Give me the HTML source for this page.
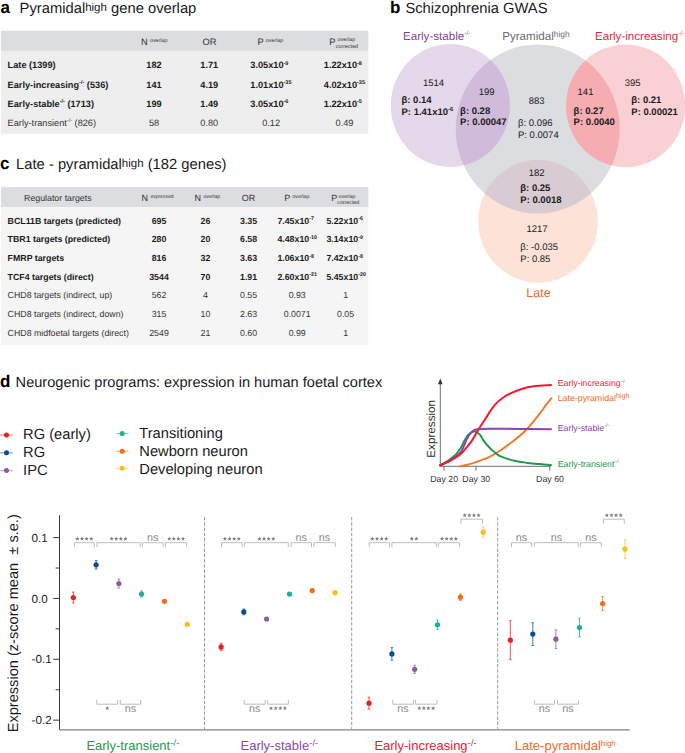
<!DOCTYPE html>
<html><head><meta charset="utf-8"><title>Figure</title>
<style>
html,body{margin:0;padding:0;background:#fff;}
body{width:685px;height:753px;overflow:hidden;}
svg{display:block;font-family:"Liberation Sans", sans-serif;text-rendering:geometricPrecision;}
</style></head>
<body>
<svg width="685" height="753" viewBox="0 0 685 753">
<rect width="685" height="753" fill="#fff"/>
<text x="0.5" y="13.1" font-size="17" font-weight="bold" fill="#000">a</text>
<text x="19.6" y="13.1" font-size="14.75" fill="#1a1a1a">Pyramidal<tspan font-size="11.5" dy="-2.6">high</tspan><tspan dy="2.6"> gene overlap</tspan></text>
<rect x="0.9" y="30.7" width="367.4" height="20.2" fill="#dcdde0"/>
<rect x="0.9" y="50.9" width="367.4" height="82.9" fill="#eeeeee"/>
<text x="141" y="44.6" font-size="9.3" fill="#333">N<tspan font-size="5.35" dx="2.2" dy="-3.05">overlap</tspan></text>
<text x="209.5" y="44.5" font-size="9.3" fill="#333" font-weight="normal" text-anchor="middle" >OR</text>
<text x="257.4" y="44.6" font-size="9.3" fill="#333">P<tspan font-size="5.35" dx="2.2" dy="-3.05">overlap</tspan></text>
<text x="329.3" y="44.6" font-size="9.3" fill="#333">P<tspan font-size="5.35" dx="2.1" dy="-3.65">overlap</tspan></text>
<text x="335.8" y="47.6" font-size="5.35" fill="#333">corrected</text>
<text x="7.6" y="68.2" font-size="9.2" font-weight="bold" fill="#1a1a1a">Late (1399)</text>
<text x="154" y="68.2" font-size="9.2" fill="#1a1a1a" font-weight="bold" text-anchor="middle" >182</text>
<text x="209.3" y="68.2" font-size="9.2" fill="#1a1a1a" font-weight="bold" text-anchor="middle" >1.71</text>
<text x="250.3" y="68.2" font-size="9.2" font-weight="bold" fill="#1a1a1a">3.05x10<tspan font-size="5.5" dy="-3.5">-9</tspan></text>
<text x="323.8" y="68.2" font-size="9.2" font-weight="bold" fill="#1a1a1a">1.22x10<tspan font-size="5.5" dy="-3.5">-8</tspan></text>
<text x="7.6" y="87.5" font-size="9.2" font-weight="bold" fill="#1a1a1a">Early-increasing<tspan font-size="5.5" dy="-3.5">-/-</tspan><tspan dy="3.5"> (536)</tspan></text>
<text x="154" y="87.5" font-size="9.2" fill="#1a1a1a" font-weight="bold" text-anchor="middle" >141</text>
<text x="209.3" y="87.5" font-size="9.2" fill="#1a1a1a" font-weight="bold" text-anchor="middle" >4.19</text>
<text x="250.3" y="87.5" font-size="9.2" font-weight="bold" fill="#1a1a1a">1.01x10<tspan font-size="5.5" dy="-3.5">-35</tspan></text>
<text x="323.8" y="87.5" font-size="9.2" font-weight="bold" fill="#1a1a1a">4.02x10<tspan font-size="5.5" dy="-3.5">-35</tspan></text>
<text x="7.6" y="106.9" font-size="9.2" font-weight="bold" fill="#1a1a1a">Early-stable<tspan font-size="5.5" dy="-3.5">-/-</tspan><tspan dy="3.5"> (1713)</tspan></text>
<text x="154" y="106.9" font-size="9.2" fill="#1a1a1a" font-weight="bold" text-anchor="middle" >199</text>
<text x="209.3" y="106.9" font-size="9.2" fill="#1a1a1a" font-weight="bold" text-anchor="middle" >1.49</text>
<text x="250.3" y="106.9" font-size="9.2" font-weight="bold" fill="#1a1a1a">3.05x10<tspan font-size="5.5" dy="-3.5">-6</tspan></text>
<text x="323.8" y="106.9" font-size="9.2" font-weight="bold" fill="#1a1a1a">1.22x10<tspan font-size="5.5" dy="-3.5">-5</tspan></text>
<text x="7.6" y="125.9" font-size="9.2" font-weight="normal" fill="#333">Early-transient<tspan font-size="5.5" dy="-3.5">-/-</tspan><tspan dy="3.5"> (826)</tspan></text>
<text x="154" y="125.9" font-size="9.2" fill="#333" font-weight="normal" text-anchor="middle" >58</text>
<text x="209.3" y="125.9" font-size="9.2" fill="#333" font-weight="normal" text-anchor="middle" >0.80</text>
<text x="271.1" y="125.9" font-size="9.2" fill="#333" font-weight="normal" text-anchor="middle" >0.12</text>
<text x="344.5" y="125.9" font-size="9.2" fill="#333" font-weight="normal" text-anchor="middle" >0.49</text>
<text x="0" y="169.4" font-size="17" font-weight="bold" fill="#000">c</text>
<text x="16.1" y="169.4" font-size="14.75" fill="#1a1a1a">Late - pyramidal<tspan font-size="11.5" dy="-2.6">high</tspan><tspan dy="2.6"> (182 genes)</tspan></text>
<rect x="0.9" y="187.0" width="367.4" height="20.1" fill="#dcdde0"/>
<rect x="0.9" y="207.1" width="367.4" height="138.1" fill="#f5f5f5"/>
<text x="57.8" y="200.5" font-size="8.8" fill="#333" font-weight="normal" text-anchor="middle" >Regulator targets</text>
<text x="141.5" y="200.6" font-size="9" fill="#333">N<tspan font-size="5.0" dx="2.4" dy="-2.5">expressed</tspan></text>
<text x="194.6" y="200.6" font-size="9" fill="#333">N<tspan font-size="5.1" dx="2.3" dy="-2.5">overlap</tspan></text>
<text x="248.6" y="200.6" font-size="9" fill="#333" font-weight="normal" text-anchor="middle" >OR</text>
<text x="284.2" y="200.6" font-size="9" fill="#333">P<tspan font-size="5.1" dx="2.3" dy="-2.5">overlap</tspan></text>
<text x="331.2" y="200.6" font-size="9" fill="#333">P<tspan font-size="5.1" dx="1.4" dy="-2.6">overlap</tspan></text>
<text x="337.3" y="203.8" font-size="5.25" fill="#333">corrected</text>
<text x="7.6" y="223.5" font-size="8.8" fill="#1a1a1a" font-weight="bold" text-anchor="start" >BCL11B targets (predicted)</text>
<text x="159" y="223.5" font-size="8.8" fill="#1a1a1a" font-weight="bold" text-anchor="middle" >695</text>
<text x="205.4" y="223.5" font-size="8.8" fill="#1a1a1a" font-weight="bold" text-anchor="middle" >26</text>
<text x="248.6" y="223.5" font-size="8.8" fill="#1a1a1a" font-weight="bold" text-anchor="middle" >3.35</text>
<text x="277.4" y="223.5" font-size="8.8" font-weight="bold" fill="#1a1a1a">7.45x10<tspan font-size="5.3" dy="-3.4">-7</tspan></text>
<text x="326.4" y="223.5" font-size="8.8" font-weight="bold" fill="#1a1a1a">5.22x10<tspan font-size="5.3" dy="-3.4">-6</tspan></text>
<text x="7.6" y="242.2" font-size="8.8" fill="#1a1a1a" font-weight="bold" text-anchor="start" >TBR1 targets (predicted)</text>
<text x="159" y="242.2" font-size="8.8" fill="#1a1a1a" font-weight="bold" text-anchor="middle" >280</text>
<text x="205.4" y="242.2" font-size="8.8" fill="#1a1a1a" font-weight="bold" text-anchor="middle" >20</text>
<text x="248.6" y="242.2" font-size="8.8" fill="#1a1a1a" font-weight="bold" text-anchor="middle" >6.58</text>
<text x="277.4" y="242.2" font-size="8.8" font-weight="bold" fill="#1a1a1a">4.48x10<tspan font-size="5.3" dy="-3.4">-10</tspan></text>
<text x="326.4" y="242.2" font-size="8.8" font-weight="bold" fill="#1a1a1a">3.14x10<tspan font-size="5.3" dy="-3.4">-9</tspan></text>
<text x="7.6" y="260.9" font-size="8.8" fill="#1a1a1a" font-weight="bold" text-anchor="start" >FMRP targets</text>
<text x="159" y="260.9" font-size="8.8" fill="#1a1a1a" font-weight="bold" text-anchor="middle" >816</text>
<text x="205.4" y="260.9" font-size="8.8" fill="#1a1a1a" font-weight="bold" text-anchor="middle" >32</text>
<text x="248.6" y="260.9" font-size="8.8" fill="#1a1a1a" font-weight="bold" text-anchor="middle" >3.63</text>
<text x="277.4" y="260.9" font-size="8.8" font-weight="bold" fill="#1a1a1a">1.06x10<tspan font-size="5.3" dy="-3.4">-8</tspan></text>
<text x="326.4" y="260.9" font-size="8.8" font-weight="bold" fill="#1a1a1a">7.42x10<tspan font-size="5.3" dy="-3.4">-8</tspan></text>
<text x="7.6" y="279.5" font-size="8.8" fill="#1a1a1a" font-weight="bold" text-anchor="start" >TCF4 targets (direct)</text>
<text x="159" y="279.5" font-size="8.8" fill="#1a1a1a" font-weight="bold" text-anchor="middle" >3544</text>
<text x="205.4" y="279.5" font-size="8.8" fill="#1a1a1a" font-weight="bold" text-anchor="middle" >70</text>
<text x="248.6" y="279.5" font-size="8.8" fill="#1a1a1a" font-weight="bold" text-anchor="middle" >1.91</text>
<text x="277.4" y="279.5" font-size="8.8" font-weight="bold" fill="#1a1a1a">2.60x10<tspan font-size="5.3" dy="-3.4">-21</tspan></text>
<text x="326.4" y="279.5" font-size="8.8" font-weight="bold" fill="#1a1a1a">5.45x10<tspan font-size="5.3" dy="-3.4">-20</tspan></text>
<text x="7.6" y="298.3" font-size="8.8" fill="#333" font-weight="normal" text-anchor="start" >CHD8 targets (indirect, up)</text>
<text x="159" y="298.3" font-size="8.8" fill="#333" font-weight="normal" text-anchor="middle" >562</text>
<text x="205.4" y="298.3" font-size="8.8" fill="#333" font-weight="normal" text-anchor="middle" >4</text>
<text x="248.6" y="298.3" font-size="8.8" fill="#333" font-weight="normal" text-anchor="middle" >0.55</text>
<text x="297.2" y="298.3" font-size="8.8" fill="#333" font-weight="normal" text-anchor="middle" >0.93</text>
<text x="345.6" y="298.3" font-size="8.8" fill="#333" font-weight="normal" text-anchor="middle" >1</text>
<text x="7.6" y="317.0" font-size="8.8" fill="#333" font-weight="normal" text-anchor="start" >CHD8 targets (indirect, down)</text>
<text x="159" y="317.0" font-size="8.8" fill="#333" font-weight="normal" text-anchor="middle" >315</text>
<text x="205.4" y="317.0" font-size="8.8" fill="#333" font-weight="normal" text-anchor="middle" >10</text>
<text x="248.6" y="317.0" font-size="8.8" fill="#333" font-weight="normal" text-anchor="middle" >2.63</text>
<text x="297.2" y="317.0" font-size="8.8" fill="#333" font-weight="normal" text-anchor="middle" >0.0071</text>
<text x="345.6" y="317.0" font-size="8.8" fill="#333" font-weight="normal" text-anchor="middle" >0.05</text>
<text x="7.6" y="335.6" font-size="8.8" fill="#333" font-weight="normal" text-anchor="start" >CHD8 midfoetal targets (direct)</text>
<text x="159" y="335.6" font-size="8.8" fill="#333" font-weight="normal" text-anchor="middle" >2549</text>
<text x="205.4" y="335.6" font-size="8.8" fill="#333" font-weight="normal" text-anchor="middle" >21</text>
<text x="248.6" y="335.6" font-size="8.8" fill="#333" font-weight="normal" text-anchor="middle" >0.60</text>
<text x="297.2" y="335.6" font-size="8.8" fill="#333" font-weight="normal" text-anchor="middle" >0.99</text>
<text x="345.6" y="335.6" font-size="8.8" fill="#333" font-weight="normal" text-anchor="middle" >1</text>
<text x="390" y="12.8" font-size="17" font-weight="bold" fill="#000">b</text>
<text x="405.4" y="12.8" font-size="14.75" fill="#1a1a1a">Schizophrenia GWAS</text>
<defs><clipPath id="cg"><ellipse cx="537.7" cy="129" rx="82" ry="84.5"/></clipPath></defs>
<ellipse cx="537.7" cy="129" rx="82" ry="84.5" fill="#dcdde0"/>
<ellipse cx="450.4" cy="105.4" rx="59.6" ry="61.5" fill="#e5d8eb"/>
<ellipse cx="625.6" cy="105.8" rx="59.6" ry="61.4" fill="#f9d0d4"/>
<ellipse cx="538" cy="221.2" rx="59.8" ry="61.4" fill="#fde2d7"/>
<g clip-path="url(#cg)"><ellipse cx="450.4" cy="105.4" rx="59.6" ry="61.5" fill="#d0bbda"/><ellipse cx="625.6" cy="105.8" rx="59.6" ry="61.4" fill="#f5adb2"/><ellipse cx="538" cy="221.2" rx="59.8" ry="61.4" fill="#d9cbd2"/></g>
<text x="403" y="39.7" font-size="11.6" fill="#8a3f9e">Early-stable<tspan font-size="6.2" dx="0.3" dy="-5.2">-/-</tspan></text>
<text x="502.2" y="39.7" font-size="11.6" fill="#6d6e71">Pyramidal<tspan font-size="8.4" dy="-3.2">high</tspan></text>
<text x="595" y="39.7" font-size="11.6" fill="#e8283c">Early-increasing<tspan font-size="6.2" dx="0.3" dy="-5.2">-/-</tspan></text>
<text x="526.3" y="296.5" font-size="12.5" fill="#ec6a2c">Late</text>
<text x="433.6" y="86" font-size="9.5" fill="#1a1a1a" font-weight="normal" text-anchor="middle" >1514</text>
<text x="401.5" y="102.8" font-size="9.5" fill="#1a1a1a" font-weight="bold" text-anchor="start" >β: 0.14</text>
<text x="401.5" y="114.8" font-size="9.5" font-weight="bold" fill="#1a1a1a">P: 1.41x10<tspan font-size="5.8" dy="-3.6">-6</tspan></text>
<text x="486.6" y="94.5" font-size="9.5" fill="#1a1a1a" font-weight="normal" text-anchor="middle" >199</text>
<text x="460.1" y="113.5" font-size="9.5" fill="#1a1a1a" font-weight="bold" text-anchor="start" >β: 0.28</text>
<text x="460.1" y="125.2" font-size="9.5" fill="#1a1a1a" font-weight="bold" text-anchor="start" >P: 0.00047</text>
<text x="536.7" y="103.5" font-size="9.5" fill="#1a1a1a" font-weight="normal" text-anchor="middle" >883</text>
<text x="518" y="125.5" font-size="9.5" fill="#1a1a1a" font-weight="normal" text-anchor="start" >β: 0.096</text>
<text x="518" y="137.5" font-size="9.5" fill="#1a1a1a" font-weight="normal" text-anchor="start" >P: 0.0074</text>
<text x="585.5" y="95.3" font-size="9.5" fill="#1a1a1a" font-weight="normal" text-anchor="middle" >141</text>
<text x="573.6" y="113.5" font-size="9.5" fill="#1a1a1a" font-weight="bold" text-anchor="start" >β: 0.27</text>
<text x="573.6" y="125.2" font-size="9.5" fill="#1a1a1a" font-weight="bold" text-anchor="start" >P: 0.0040</text>
<text x="632.6" y="86" font-size="9.5" fill="#1a1a1a" font-weight="normal" text-anchor="middle" >395</text>
<text x="631.3" y="102.8" font-size="9.5" fill="#1a1a1a" font-weight="bold" text-anchor="start" >β: 0.21</text>
<text x="631.3" y="114.6" font-size="9.5" fill="#1a1a1a" font-weight="bold" text-anchor="start" >P: 0.00021</text>
<text x="536.7" y="175.7" font-size="9.5" fill="#1a1a1a" font-weight="normal" text-anchor="middle" >182</text>
<text x="520.3" y="190.8" font-size="9.5" fill="#1a1a1a" font-weight="bold" text-anchor="start" >β: 0.25</text>
<text x="520.3" y="202.8" font-size="9.5" fill="#1a1a1a" font-weight="bold" text-anchor="start" >P: 0.0018</text>
<text x="537" y="231.8" font-size="9.5" fill="#1a1a1a" font-weight="normal" text-anchor="middle" >1217</text>
<text x="520.3" y="250" font-size="9.5" fill="#1a1a1a" font-weight="normal" text-anchor="start" >β: -0.035</text>
<text x="520.3" y="262.1" font-size="9.5" fill="#1a1a1a" font-weight="normal" text-anchor="start" >P: 0.85</text>
<text x="0" y="386.8" font-size="17" font-weight="bold" fill="#000">d</text>
<text x="15.6" y="387" font-size="14.6" fill="#1a1a1a">Neurogenic programs: expression in human foetal cortex</text>
<line x1="0" y1="435.0" x2="12.8" y2="435.0" stroke="#ee1c25" stroke-opacity="0.5" stroke-width="1.2"/>
<circle cx="6.5" cy="435.0" r="2.5" fill="#ee1c25"/>
<text x="23.1" y="438.90000000000003" font-size="14.7" fill="#1a1a1a" font-weight="normal" text-anchor="start" >RG (early)</text>
<line x1="0" y1="452.8" x2="12.8" y2="452.8" stroke="#0c4a96" stroke-opacity="0.5" stroke-width="1.2"/>
<circle cx="6.5" cy="452.8" r="2.5" fill="#0c4a96"/>
<text x="23.1" y="456.90000000000003" font-size="14.7" fill="#1a1a1a" font-weight="normal" text-anchor="start" >RG</text>
<line x1="0" y1="470.6" x2="12.8" y2="470.6" stroke="#8e5aa6" stroke-opacity="0.5" stroke-width="1.2"/>
<circle cx="6.5" cy="470.6" r="2.5" fill="#8e5aa6"/>
<text x="23.1" y="474.90000000000003" font-size="14.7" fill="#1a1a1a" font-weight="normal" text-anchor="start" >IPC</text>
<line x1="115.8" y1="433.6" x2="128.6" y2="433.6" stroke="#1aaf9c" stroke-opacity="0.5" stroke-width="1.2"/>
<circle cx="122.2" cy="433.6" r="2.5" fill="#1aaf9c"/>
<text x="139.3" y="438.2" font-size="14.7" fill="#1a1a1a" font-weight="normal" text-anchor="start" >Transitioning</text>
<line x1="115.8" y1="451.3" x2="128.6" y2="451.3" stroke="#f36b12" stroke-opacity="0.5" stroke-width="1.2"/>
<circle cx="122.2" cy="451.3" r="2.5" fill="#f36b12"/>
<text x="139.3" y="456.2" font-size="14.7" fill="#1a1a1a" font-weight="normal" text-anchor="start" >Newborn neuron</text>
<line x1="115.8" y1="468.3" x2="128.6" y2="468.3" stroke="#fbbd18" stroke-opacity="0.5" stroke-width="1.2"/>
<circle cx="122.2" cy="468.3" r="2.5" fill="#fbbd18"/>
<text x="139.3" y="473.5" font-size="14.7" fill="#1a1a1a" font-weight="normal" text-anchor="start" >Developing neuron</text>
<line x1="440.3" y1="382" x2="440.3" y2="466.1" stroke="#6d6e71" stroke-width="1"/>
<path d="M440.3,378.6 L442.6,384.2 L438,384.2 Z" fill="#333"/>
<line x1="440.3" y1="466.3" x2="551" y2="466.3" stroke="#6d6e71" stroke-width="1"/>
<line x1="444.0" y1="466.1" x2="444.0" y2="470.6" stroke="#6d6e71" stroke-width="1"/>
<line x1="475.9" y1="466.1" x2="475.9" y2="470.6" stroke="#6d6e71" stroke-width="1"/>
<line x1="549.8" y1="466.1" x2="549.8" y2="470.6" stroke="#6d6e71" stroke-width="1"/>
<text x="430.2" y="482" font-size="8.8" fill="#333" font-weight="normal" text-anchor="start" >Day 20</text>
<text x="462.3" y="482" font-size="8.8" fill="#333" font-weight="normal" text-anchor="start" >Day 30</text>
<text x="536.1" y="482" font-size="8.8" fill="#333" font-weight="normal" text-anchor="start" >Day 60</text>
<text transform="translate(435.4,457.7) rotate(-90)" x="0" y="0" font-size="11.7" fill="#333">Expression</text>
<path d="M459.9,466.4 C461.12,466.13 464.77,465.43 467.20,464.80 C469.63,464.17 472.07,463.40 474.50,462.60 C476.93,461.80 479.55,460.83 481.80,460.00 C484.05,459.17 485.43,458.85 488.00,457.60 C490.57,456.35 493.63,454.77 497.20,452.50 C500.77,450.23 505.33,447.05 509.40,444.00 C513.47,440.95 518.53,436.85 521.60,434.20 C524.67,431.55 525.75,430.33 527.80,428.10 C529.85,425.87 531.87,423.25 533.90,420.80 C535.93,418.35 537.97,416.05 540.00,413.40 C542.03,410.75 544.20,407.43 546.10,404.90 C548.00,402.37 550.52,399.32 551.40,398.20" fill="none" stroke="#f07a27" stroke-width="2" stroke-linecap="round"/>
<path d="M440.2,465.4 C441.67,464.50 446.33,461.87 449.00,460.00 C451.67,458.13 454.13,456.38 456.20,454.20 C458.27,452.02 460.05,449.08 461.40,446.90 C462.75,444.72 463.22,443.05 464.30,441.10 C465.38,439.15 466.68,436.67 467.90,435.20 C469.12,433.73 470.50,432.90 471.60,432.30 C472.70,431.70 473.53,431.53 474.50,431.60 C475.47,431.67 476.43,432.10 477.40,432.70 C478.37,433.30 479.20,433.80 480.30,435.20 C481.40,436.60 482.72,439.30 484.00,441.10 C485.28,442.90 486.82,444.65 488.00,446.00 C489.18,447.35 489.57,447.82 491.10,449.20 C492.63,450.58 495.17,452.93 497.20,454.30 C499.23,455.67 500.25,456.27 503.30,457.40 C506.35,458.53 511.42,460.18 515.50,461.10 C519.58,462.02 523.72,462.40 527.80,462.90 C531.88,463.40 536.13,463.75 540.00,464.10 C543.87,464.45 549.17,464.85 551.00,465.00" fill="none" stroke="#1d9a4e" stroke-width="2" stroke-linecap="round"/>
<path d="M440.2,465.4 C441.67,464.75 446.33,463.00 449.00,461.50 C451.67,460.00 454.28,457.87 456.20,456.40 C458.12,454.93 459.27,454.28 460.50,452.70 C461.73,451.12 462.58,449.08 463.60,446.90 C464.62,444.72 465.53,441.78 466.60,439.60 C467.67,437.42 468.87,435.32 470.00,433.80 C471.13,432.28 472.28,431.23 473.40,430.50 C474.52,429.77 474.27,429.68 476.70,429.40 C479.13,429.12 480.78,428.88 488.00,428.80 C495.22,428.72 509.50,428.82 520.00,428.90 C530.50,428.98 545.83,429.23 551.00,429.30" fill="none" stroke="#8e44ad" stroke-width="2" stroke-linecap="round"/>
<path d="M440.2,465.4 C441.67,464.68 446.33,462.48 449.00,461.10 C451.67,459.72 454.02,458.50 456.20,457.10 C458.38,455.70 460.27,454.40 462.10,452.70 C463.93,451.00 465.62,448.83 467.20,446.90 C468.78,444.97 470.13,443.28 471.60,441.10 C473.07,438.92 474.55,436.23 476.00,433.80 C477.45,431.37 478.80,428.88 480.30,426.50 C481.80,424.12 483.20,422.28 485.00,419.50 C486.80,416.72 489.07,412.65 491.10,409.80 C493.13,406.95 495.17,404.45 497.20,402.40 C499.23,400.35 501.27,398.92 503.30,397.50 C505.33,396.08 506.35,395.32 509.40,393.90 C512.45,392.48 517.52,390.27 521.60,389.00 C525.68,387.73 529.00,386.95 533.90,386.30 C538.80,385.65 548.15,385.30 551.00,385.10" fill="none" stroke="#ec1c2e" stroke-width="2" stroke-linecap="round"/>
<text x="557.7" y="386.4" font-size="8.8" fill="#e8283c">Early-increasing<tspan font-size="5.2" dx="0.4" dy="-3.6">-/-</tspan></text>
<text x="557.7" y="401.3" font-size="8.8" fill="#ec6a2c">Late-pyramidal<tspan font-size="7.2" dy="-3.4">high</tspan></text>
<text x="557.7" y="431" font-size="8.8" fill="#8e44ad">Early-stable<tspan font-size="5.2" dx="0.4" dy="-3.6">-/-</tspan></text>
<text x="557.7" y="466.5" font-size="8.8" fill="#1d9a4e">Early-transient<tspan font-size="5.2" dx="0.4" dy="-3.6">-/-</tspan></text>
<line x1="59.5" y1="515.2" x2="59.5" y2="729.8" stroke="#3a3a3a" stroke-width="1"/>
<line x1="59.5" y1="729.8" x2="629.8" y2="729.8" stroke="#808080" stroke-width="1.2"/>
<line x1="53.2" y1="537.60" x2="59.5" y2="537.60" stroke="#3a3a3a" stroke-width="1"/>
<text x="31.5" y="541.7" font-size="11.7" fill="#1a1a1a" font-weight="normal" text-anchor="start" >0.1</text>
<line x1="53.2" y1="598.45" x2="59.5" y2="598.45" stroke="#3a3a3a" stroke-width="1"/>
<text x="31.5" y="602.5500000000001" font-size="11.7" fill="#1a1a1a" font-weight="normal" text-anchor="start" >0.0</text>
<line x1="53.2" y1="659.30" x2="59.5" y2="659.30" stroke="#3a3a3a" stroke-width="1"/>
<text x="31.5" y="663.4000000000001" font-size="11.7" fill="#1a1a1a" font-weight="normal" text-anchor="start" >-0.1</text>
<line x1="53.2" y1="720.15" x2="59.5" y2="720.15" stroke="#3a3a3a" stroke-width="1"/>
<text x="31.5" y="724.2500000000001" font-size="11.7" fill="#1a1a1a" font-weight="normal" text-anchor="start" >-0.2</text>
<line x1="55.6" y1="568.03" x2="59.5" y2="568.03" stroke="#3a3a3a" stroke-width="1"/>
<line x1="55.6" y1="628.88" x2="59.5" y2="628.88" stroke="#3a3a3a" stroke-width="1"/>
<line x1="55.6" y1="689.73" x2="59.5" y2="689.73" stroke="#3a3a3a" stroke-width="1"/>
<text transform="translate(18.4,732.3) rotate(-90)" x="0" y="0" font-size="14.6" fill="#1a1a1a">Expression (z-score mean&#160; ± s.e.)</text>
<line x1="204.5" y1="517" x2="204.5" y2="729" stroke="#9a9a9a" stroke-width="1" stroke-dasharray="3.5 1.75"/>
<line x1="351.7" y1="517" x2="351.7" y2="729" stroke="#9a9a9a" stroke-width="1" stroke-dasharray="3.5 1.75"/>
<line x1="497.7" y1="517" x2="497.7" y2="729" stroke="#9a9a9a" stroke-width="1" stroke-dasharray="3.5 1.75"/>
<line x1="73.3" y1="592.0" x2="73.3" y2="603.0" stroke="#ee1c25" stroke-opacity="0.75" stroke-width="1"/>
<line x1="71.89999999999999" y1="592.0" x2="74.7" y2="592.0" stroke="#ee1c25" stroke-opacity="0.75" stroke-width="0.9"/>
<line x1="71.89999999999999" y1="603.0" x2="74.7" y2="603.0" stroke="#ee1c25" stroke-opacity="0.75" stroke-width="0.9"/>
<circle cx="73.3" cy="597.5" r="2.6" fill="#ee1c25"/>
<line x1="96.1" y1="560.5" x2="96.1" y2="569.0999999999999" stroke="#0c4a96" stroke-opacity="0.75" stroke-width="1"/>
<line x1="94.69999999999999" y1="560.5" x2="97.5" y2="560.5" stroke="#0c4a96" stroke-opacity="0.75" stroke-width="0.9"/>
<line x1="94.69999999999999" y1="569.0999999999999" x2="97.5" y2="569.0999999999999" stroke="#0c4a96" stroke-opacity="0.75" stroke-width="0.9"/>
<circle cx="96.1" cy="564.8" r="2.6" fill="#0c4a96"/>
<line x1="118.9" y1="579.0" x2="118.9" y2="588.0" stroke="#8e5aa6" stroke-opacity="0.75" stroke-width="1"/>
<line x1="117.5" y1="579.0" x2="120.30000000000001" y2="579.0" stroke="#8e5aa6" stroke-opacity="0.75" stroke-width="0.9"/>
<line x1="117.5" y1="588.0" x2="120.30000000000001" y2="588.0" stroke="#8e5aa6" stroke-opacity="0.75" stroke-width="0.9"/>
<circle cx="118.9" cy="583.5" r="2.6" fill="#8e5aa6"/>
<line x1="141.5" y1="591.0" x2="141.5" y2="597.0" stroke="#1aaf9c" stroke-opacity="0.75" stroke-width="1"/>
<line x1="140.1" y1="591.0" x2="142.9" y2="591.0" stroke="#1aaf9c" stroke-opacity="0.75" stroke-width="0.9"/>
<line x1="140.1" y1="597.0" x2="142.9" y2="597.0" stroke="#1aaf9c" stroke-opacity="0.75" stroke-width="0.9"/>
<circle cx="141.5" cy="594.0" r="2.6" fill="#1aaf9c"/>
<circle cx="164.5" cy="601.3" r="2.6" fill="#f36b12"/>
<circle cx="187.3" cy="624.3" r="2.6" fill="#fbbd18"/>
<line x1="221.1" y1="643.1999999999999" x2="221.1" y2="650.6" stroke="#ee1c25" stroke-opacity="0.75" stroke-width="1"/>
<line x1="219.7" y1="643.1999999999999" x2="222.5" y2="643.1999999999999" stroke="#ee1c25" stroke-opacity="0.75" stroke-width="0.9"/>
<line x1="219.7" y1="650.6" x2="222.5" y2="650.6" stroke="#ee1c25" stroke-opacity="0.75" stroke-width="0.9"/>
<circle cx="221.1" cy="646.9" r="2.6" fill="#ee1c25"/>
<line x1="243.8" y1="609.0" x2="243.8" y2="614.8" stroke="#0c4a96" stroke-opacity="0.75" stroke-width="1"/>
<line x1="242.4" y1="609.0" x2="245.20000000000002" y2="609.0" stroke="#0c4a96" stroke-opacity="0.75" stroke-width="0.9"/>
<line x1="242.4" y1="614.8" x2="245.20000000000002" y2="614.8" stroke="#0c4a96" stroke-opacity="0.75" stroke-width="0.9"/>
<circle cx="243.8" cy="611.9" r="2.6" fill="#0c4a96"/>
<circle cx="266.6" cy="619.0" r="2.6" fill="#8e5aa6"/>
<circle cx="289.5" cy="594.1" r="2.6" fill="#1aaf9c"/>
<circle cx="312.2" cy="590.6" r="2.6" fill="#f36b12"/>
<circle cx="335.1" cy="592.7" r="2.6" fill="#fbbd18"/>
<line x1="369.0" y1="697.2" x2="369.0" y2="709.2" stroke="#ee1c25" stroke-opacity="0.75" stroke-width="1"/>
<line x1="367.6" y1="697.2" x2="370.4" y2="697.2" stroke="#ee1c25" stroke-opacity="0.75" stroke-width="0.9"/>
<line x1="367.6" y1="709.2" x2="370.4" y2="709.2" stroke="#ee1c25" stroke-opacity="0.75" stroke-width="0.9"/>
<circle cx="369.0" cy="703.2" r="2.6" fill="#ee1c25"/>
<line x1="391.9" y1="647.6" x2="391.9" y2="660.1999999999999" stroke="#0c4a96" stroke-opacity="0.75" stroke-width="1"/>
<line x1="390.5" y1="647.6" x2="393.29999999999995" y2="647.6" stroke="#0c4a96" stroke-opacity="0.75" stroke-width="0.9"/>
<line x1="390.5" y1="660.1999999999999" x2="393.29999999999995" y2="660.1999999999999" stroke="#0c4a96" stroke-opacity="0.75" stroke-width="0.9"/>
<circle cx="391.9" cy="653.9" r="2.6" fill="#0c4a96"/>
<line x1="414.7" y1="665.1999999999999" x2="414.7" y2="673.4" stroke="#8e5aa6" stroke-opacity="0.75" stroke-width="1"/>
<line x1="413.3" y1="665.1999999999999" x2="416.09999999999997" y2="665.1999999999999" stroke="#8e5aa6" stroke-opacity="0.75" stroke-width="0.9"/>
<line x1="413.3" y1="673.4" x2="416.09999999999997" y2="673.4" stroke="#8e5aa6" stroke-opacity="0.75" stroke-width="0.9"/>
<circle cx="414.7" cy="669.3" r="2.6" fill="#8e5aa6"/>
<line x1="437.5" y1="620.0" x2="437.5" y2="629.5999999999999" stroke="#1aaf9c" stroke-opacity="0.75" stroke-width="1"/>
<line x1="436.1" y1="620.0" x2="438.9" y2="620.0" stroke="#1aaf9c" stroke-opacity="0.75" stroke-width="0.9"/>
<line x1="436.1" y1="629.5999999999999" x2="438.9" y2="629.5999999999999" stroke="#1aaf9c" stroke-opacity="0.75" stroke-width="0.9"/>
<circle cx="437.5" cy="624.8" r="2.6" fill="#1aaf9c"/>
<line x1="460.4" y1="593.8000000000001" x2="460.4" y2="600.6" stroke="#f36b12" stroke-opacity="0.75" stroke-width="1"/>
<line x1="459.0" y1="593.8000000000001" x2="461.79999999999995" y2="593.8000000000001" stroke="#f36b12" stroke-opacity="0.75" stroke-width="0.9"/>
<line x1="459.0" y1="600.6" x2="461.79999999999995" y2="600.6" stroke="#f36b12" stroke-opacity="0.75" stroke-width="0.9"/>
<circle cx="460.4" cy="597.2" r="2.6" fill="#f36b12"/>
<line x1="483.2" y1="527.0" x2="483.2" y2="537.4000000000001" stroke="#fbbd18" stroke-opacity="0.75" stroke-width="1"/>
<line x1="481.8" y1="527.0" x2="484.59999999999997" y2="527.0" stroke="#fbbd18" stroke-opacity="0.75" stroke-width="0.9"/>
<line x1="481.8" y1="537.4000000000001" x2="484.59999999999997" y2="537.4000000000001" stroke="#fbbd18" stroke-opacity="0.75" stroke-width="0.9"/>
<circle cx="483.2" cy="532.2" r="2.6" fill="#fbbd18"/>
<line x1="510.3" y1="620.7" x2="510.3" y2="659.7" stroke="#ee1c25" stroke-opacity="0.75" stroke-width="1"/>
<line x1="508.90000000000003" y1="620.7" x2="511.7" y2="620.7" stroke="#ee1c25" stroke-opacity="0.75" stroke-width="0.9"/>
<line x1="508.90000000000003" y1="659.7" x2="511.7" y2="659.7" stroke="#ee1c25" stroke-opacity="0.75" stroke-width="0.9"/>
<circle cx="510.3" cy="640.2" r="2.6" fill="#ee1c25"/>
<line x1="532.8" y1="622.7" x2="532.8" y2="645.5" stroke="#0c4a96" stroke-opacity="0.75" stroke-width="1"/>
<line x1="531.4" y1="622.7" x2="534.1999999999999" y2="622.7" stroke="#0c4a96" stroke-opacity="0.75" stroke-width="0.9"/>
<line x1="531.4" y1="645.5" x2="534.1999999999999" y2="645.5" stroke="#0c4a96" stroke-opacity="0.75" stroke-width="0.9"/>
<circle cx="532.8" cy="634.1" r="2.6" fill="#0c4a96"/>
<line x1="555.9" y1="629.8000000000001" x2="555.9" y2="648.6" stroke="#8e5aa6" stroke-opacity="0.75" stroke-width="1"/>
<line x1="554.5" y1="629.8000000000001" x2="557.3" y2="629.8000000000001" stroke="#8e5aa6" stroke-opacity="0.75" stroke-width="0.9"/>
<line x1="554.5" y1="648.6" x2="557.3" y2="648.6" stroke="#8e5aa6" stroke-opacity="0.75" stroke-width="0.9"/>
<circle cx="555.9" cy="639.2" r="2.6" fill="#8e5aa6"/>
<line x1="579.5" y1="618.1" x2="579.5" y2="636.9" stroke="#1aaf9c" stroke-opacity="0.75" stroke-width="1"/>
<line x1="578.1" y1="618.1" x2="580.9" y2="618.1" stroke="#1aaf9c" stroke-opacity="0.75" stroke-width="0.9"/>
<line x1="578.1" y1="636.9" x2="580.9" y2="636.9" stroke="#1aaf9c" stroke-opacity="0.75" stroke-width="0.9"/>
<circle cx="579.5" cy="627.5" r="2.6" fill="#1aaf9c"/>
<line x1="602.6" y1="596.5" x2="602.6" y2="610.5" stroke="#f36b12" stroke-opacity="0.75" stroke-width="1"/>
<line x1="601.2" y1="596.5" x2="604.0" y2="596.5" stroke="#f36b12" stroke-opacity="0.75" stroke-width="0.9"/>
<line x1="601.2" y1="610.5" x2="604.0" y2="610.5" stroke="#f36b12" stroke-opacity="0.75" stroke-width="0.9"/>
<circle cx="602.6" cy="603.5" r="2.6" fill="#f36b12"/>
<line x1="625.0" y1="539.7" x2="625.0" y2="558.5" stroke="#fbbd18" stroke-opacity="0.75" stroke-width="1"/>
<line x1="623.6" y1="539.7" x2="626.4" y2="539.7" stroke="#fbbd18" stroke-opacity="0.75" stroke-width="0.9"/>
<line x1="623.6" y1="558.5" x2="626.4" y2="558.5" stroke="#fbbd18" stroke-opacity="0.75" stroke-width="0.9"/>
<circle cx="625.0" cy="549.1" r="2.6" fill="#fbbd18"/>
<path d="M74.3,547.1 V542.7 H94.3 V547.1" fill="none" stroke="#b5b5b5" stroke-width="0.9"/>
<polygon points="77.40,536.50 77.99,537.99 79.59,538.09 78.35,539.11 78.75,540.66 77.40,539.80 76.05,540.66 76.45,539.11 75.21,538.09 76.81,537.99" fill="#7d7d7d"/>
<polygon points="82.00,536.50 82.59,537.99 84.19,538.09 82.95,539.11 83.35,540.66 82.00,539.80 80.65,540.66 81.05,539.11 79.81,538.09 81.41,537.99" fill="#7d7d7d"/>
<polygon points="86.60,536.50 87.19,537.99 88.79,538.09 87.55,539.11 87.95,540.66 86.60,539.80 85.25,540.66 85.65,539.11 84.41,538.09 86.01,537.99" fill="#7d7d7d"/>
<polygon points="91.20,536.50 91.79,537.99 93.39,538.09 92.15,539.11 92.55,540.66 91.20,539.80 89.85,540.66 90.25,539.11 89.01,538.09 90.61,537.99" fill="#7d7d7d"/>
<path d="M96.9,547.1 V542.7 H140.2 V547.1" fill="none" stroke="#b5b5b5" stroke-width="0.9"/>
<polygon points="111.65,536.50 112.24,537.99 113.84,538.09 112.60,539.11 113.00,540.66 111.65,539.80 110.30,540.66 110.70,539.11 109.46,538.09 111.06,537.99" fill="#7d7d7d"/>
<polygon points="116.25,536.50 116.84,537.99 118.44,538.09 117.20,539.11 117.60,540.66 116.25,539.80 114.90,540.66 115.30,539.11 114.06,538.09 115.66,537.99" fill="#7d7d7d"/>
<polygon points="120.85,536.50 121.44,537.99 123.04,538.09 121.80,539.11 122.20,540.66 120.85,539.80 119.50,540.66 119.90,539.11 118.66,538.09 120.26,537.99" fill="#7d7d7d"/>
<polygon points="125.45,536.50 126.04,537.99 127.64,538.09 126.40,539.11 126.80,540.66 125.45,539.80 124.10,540.66 124.50,539.11 123.26,538.09 124.86,537.99" fill="#7d7d7d"/>
<path d="M142.4,547.1 V542.7 H163.2 V547.1" fill="none" stroke="#b5b5b5" stroke-width="0.9"/>
<text x="152.8" y="540.8000000000001" font-size="10.8" fill="#8a8a8a" font-weight="normal" text-anchor="middle" >ns</text>
<path d="M165.5,547.1 V542.7 H186.7 V547.1" fill="none" stroke="#b5b5b5" stroke-width="0.9"/>
<polygon points="169.20,536.50 169.79,537.99 171.39,538.09 170.15,539.11 170.55,540.66 169.20,539.80 167.85,540.66 168.25,539.11 167.01,538.09 168.61,537.99" fill="#7d7d7d"/>
<polygon points="173.80,536.50 174.39,537.99 175.99,538.09 174.75,539.11 175.15,540.66 173.80,539.80 172.45,540.66 172.85,539.11 171.61,538.09 173.21,537.99" fill="#7d7d7d"/>
<polygon points="178.40,536.50 178.99,537.99 180.59,538.09 179.35,539.11 179.75,540.66 178.40,539.80 177.05,540.66 177.45,539.11 176.21,538.09 177.81,537.99" fill="#7d7d7d"/>
<polygon points="183.00,536.50 183.59,537.99 185.19,538.09 183.95,539.11 184.35,540.66 183.00,539.80 181.65,540.66 182.05,539.11 180.81,538.09 182.41,537.99" fill="#7d7d7d"/>
<path d="M221.6,547.1 V542.7 H242.1 V547.1" fill="none" stroke="#b5b5b5" stroke-width="0.9"/>
<polygon points="224.95,536.50 225.54,537.99 227.14,538.09 225.90,539.11 226.30,540.66 224.95,539.80 223.60,540.66 224.00,539.11 222.76,538.09 224.36,537.99" fill="#7d7d7d"/>
<polygon points="229.55,536.50 230.14,537.99 231.74,538.09 230.50,539.11 230.90,540.66 229.55,539.80 228.20,540.66 228.60,539.11 227.36,538.09 228.96,537.99" fill="#7d7d7d"/>
<polygon points="234.15,536.50 234.74,537.99 236.34,538.09 235.10,539.11 235.50,540.66 234.15,539.80 232.80,540.66 233.20,539.11 231.96,538.09 233.56,537.99" fill="#7d7d7d"/>
<polygon points="238.75,536.50 239.34,537.99 240.94,538.09 239.70,539.11 240.10,540.66 238.75,539.80 237.40,540.66 237.80,539.11 236.56,538.09 238.16,537.99" fill="#7d7d7d"/>
<path d="M244.4,547.1 V542.7 H288.3 V547.1" fill="none" stroke="#b5b5b5" stroke-width="0.9"/>
<polygon points="259.45,536.50 260.04,537.99 261.64,538.09 260.40,539.11 260.80,540.66 259.45,539.80 258.10,540.66 258.50,539.11 257.26,538.09 258.86,537.99" fill="#7d7d7d"/>
<polygon points="264.05,536.50 264.64,537.99 266.24,538.09 265.00,539.11 265.40,540.66 264.05,539.80 262.70,540.66 263.10,539.11 261.86,538.09 263.46,537.99" fill="#7d7d7d"/>
<polygon points="268.65,536.50 269.24,537.99 270.84,538.09 269.60,539.11 270.00,540.66 268.65,539.80 267.30,540.66 267.70,539.11 266.46,538.09 268.06,537.99" fill="#7d7d7d"/>
<polygon points="273.25,536.50 273.84,537.99 275.44,538.09 274.20,539.11 274.60,540.66 273.25,539.80 271.90,540.66 272.30,539.11 271.06,538.09 272.66,537.99" fill="#7d7d7d"/>
<path d="M291.1,547.1 V542.7 H311.5 V547.1" fill="none" stroke="#b5b5b5" stroke-width="0.9"/>
<text x="301.3" y="540.8000000000001" font-size="10.8" fill="#8a8a8a" font-weight="normal" text-anchor="middle" >ns</text>
<path d="M313.8,547.1 V542.7 H335.3 V547.1" fill="none" stroke="#b5b5b5" stroke-width="0.9"/>
<text x="324.55" y="540.8000000000001" font-size="10.8" fill="#8a8a8a" font-weight="normal" text-anchor="middle" >ns</text>
<path d="M369.2,547.1 V542.7 H389.5 V547.1" fill="none" stroke="#b5b5b5" stroke-width="0.9"/>
<polygon points="372.45,536.50 373.04,537.99 374.64,538.09 373.40,539.11 373.80,540.66 372.45,539.80 371.10,540.66 371.50,539.11 370.26,538.09 371.86,537.99" fill="#7d7d7d"/>
<polygon points="377.05,536.50 377.64,537.99 379.24,538.09 378.00,539.11 378.40,540.66 377.05,539.80 375.70,540.66 376.10,539.11 374.86,538.09 376.46,537.99" fill="#7d7d7d"/>
<polygon points="381.65,536.50 382.24,537.99 383.84,538.09 382.60,539.11 383.00,540.66 381.65,539.80 380.30,540.66 380.70,539.11 379.46,538.09 381.06,537.99" fill="#7d7d7d"/>
<polygon points="386.25,536.50 386.84,537.99 388.44,538.09 387.20,539.11 387.60,540.66 386.25,539.80 384.90,540.66 385.30,539.11 384.06,538.09 385.66,537.99" fill="#7d7d7d"/>
<path d="M391.9,547.1 V542.7 H436.2 V547.1" fill="none" stroke="#b5b5b5" stroke-width="0.9"/>
<polygon points="411.75,536.50 412.34,537.99 413.94,538.09 412.70,539.11 413.10,540.66 411.75,539.80 410.40,540.66 410.80,539.11 409.56,538.09 411.16,537.99" fill="#7d7d7d"/>
<polygon points="416.35,536.50 416.94,537.99 418.54,538.09 417.30,539.11 417.70,540.66 416.35,539.80 415.00,540.66 415.40,539.11 414.16,538.09 415.76,537.99" fill="#7d7d7d"/>
<path d="M438.3,547.1 V542.7 H459.6 V547.1" fill="none" stroke="#b5b5b5" stroke-width="0.9"/>
<polygon points="442.05,536.50 442.64,537.99 444.24,538.09 443.00,539.11 443.40,540.66 442.05,539.80 440.70,540.66 441.10,539.11 439.86,538.09 441.46,537.99" fill="#7d7d7d"/>
<polygon points="446.65,536.50 447.24,537.99 448.84,538.09 447.60,539.11 448.00,540.66 446.65,539.80 445.30,540.66 445.70,539.11 444.46,538.09 446.06,537.99" fill="#7d7d7d"/>
<polygon points="451.25,536.50 451.84,537.99 453.44,538.09 452.20,539.11 452.60,540.66 451.25,539.80 449.90,540.66 450.30,539.11 449.06,538.09 450.66,537.99" fill="#7d7d7d"/>
<polygon points="455.85,536.50 456.44,537.99 458.04,538.09 456.80,539.11 457.20,540.66 455.85,539.80 454.50,540.66 454.90,539.11 453.66,538.09 455.26,537.99" fill="#7d7d7d"/>
<path d="M460.8,523.6 V519.2 H482.5 V523.6" fill="none" stroke="#b5b5b5" stroke-width="0.9"/>
<polygon points="464.75,513.00 465.34,514.49 466.94,514.59 465.70,515.61 466.10,517.16 464.75,516.30 463.40,517.16 463.80,515.61 462.56,514.59 464.16,514.49" fill="#7d7d7d"/>
<polygon points="469.35,513.00 469.94,514.49 471.54,514.59 470.30,515.61 470.70,517.16 469.35,516.30 468.00,517.16 468.40,515.61 467.16,514.59 468.76,514.49" fill="#7d7d7d"/>
<polygon points="473.95,513.00 474.54,514.49 476.14,514.59 474.90,515.61 475.30,517.16 473.95,516.30 472.60,517.16 473.00,515.61 471.76,514.59 473.36,514.49" fill="#7d7d7d"/>
<polygon points="478.55,513.00 479.14,514.49 480.74,514.59 479.50,515.61 479.90,517.16 478.55,516.30 477.20,517.16 477.60,515.61 476.36,514.59 477.96,514.49" fill="#7d7d7d"/>
<path d="M511.5,547.1 V542.7 H531.6 V547.1" fill="none" stroke="#b5b5b5" stroke-width="0.9"/>
<text x="521.55" y="540.8000000000001" font-size="10.8" fill="#8a8a8a" font-weight="normal" text-anchor="middle" >ns</text>
<path d="M534.4,547.1 V542.7 H578.3 V547.1" fill="none" stroke="#b5b5b5" stroke-width="0.9"/>
<text x="556.3499999999999" y="540.8000000000001" font-size="10.8" fill="#8a8a8a" font-weight="normal" text-anchor="middle" >ns</text>
<path d="M580.6,547.1 V542.7 H601.4 V547.1" fill="none" stroke="#b5b5b5" stroke-width="0.9"/>
<text x="591.0" y="540.8000000000001" font-size="10.8" fill="#8a8a8a" font-weight="normal" text-anchor="middle" >ns</text>
<path d="M603.3,523.6 V519.2 H624.3 V523.6" fill="none" stroke="#b5b5b5" stroke-width="0.9"/>
<polygon points="606.90,513.00 607.49,514.49 609.09,514.59 607.85,515.61 608.25,517.16 606.90,516.30 605.55,517.16 605.95,515.61 604.71,514.59 606.31,514.49" fill="#7d7d7d"/>
<polygon points="611.50,513.00 612.09,514.49 613.69,514.59 612.45,515.61 612.85,517.16 611.50,516.30 610.15,517.16 610.55,515.61 609.31,514.59 610.91,514.49" fill="#7d7d7d"/>
<polygon points="616.10,513.00 616.69,514.49 618.29,514.59 617.05,515.61 617.45,517.16 616.10,516.30 614.75,517.16 615.15,515.61 613.91,514.59 615.51,514.49" fill="#7d7d7d"/>
<polygon points="620.70,513.00 621.29,514.49 622.89,514.59 621.65,515.61 622.05,517.16 620.70,516.30 619.35,517.16 619.75,515.61 618.51,514.59 620.11,514.49" fill="#7d7d7d"/>
<path d="M96.8,699.9000000000001 V704.2 H117.6 V699.9000000000001" fill="none" stroke="#b5b5b5" stroke-width="0.9"/>
<polygon points="107.20,705.90 107.79,707.39 109.39,707.49 108.15,708.51 108.55,710.06 107.20,709.20 105.85,710.06 106.25,708.51 105.01,707.49 106.61,707.39" fill="#7d7d7d"/>
<path d="M120.3,699.9000000000001 V704.2 H140.7 V699.9000000000001" fill="none" stroke="#b5b5b5" stroke-width="0.9"/>
<text x="130.5" y="711.5" font-size="10.8" fill="#8a8a8a" font-weight="normal" text-anchor="middle" >ns</text>
<path d="M244.2,699.9000000000001 V704.2 H265.2 V699.9000000000001" fill="none" stroke="#b5b5b5" stroke-width="0.9"/>
<text x="254.7" y="711.5" font-size="10.8" fill="#8a8a8a" font-weight="normal" text-anchor="middle" >ns</text>
<path d="M267.6,699.9000000000001 V704.2 H288.4 V699.9000000000001" fill="none" stroke="#b5b5b5" stroke-width="0.9"/>
<polygon points="271.10,705.90 271.69,707.39 273.29,707.49 272.05,708.51 272.45,710.06 271.10,709.20 269.75,710.06 270.15,708.51 268.91,707.49 270.51,707.39" fill="#7d7d7d"/>
<polygon points="275.70,705.90 276.29,707.39 277.89,707.49 276.65,708.51 277.05,710.06 275.70,709.20 274.35,710.06 274.75,708.51 273.51,707.49 275.11,707.39" fill="#7d7d7d"/>
<polygon points="280.30,705.90 280.89,707.39 282.49,707.49 281.25,708.51 281.65,710.06 280.30,709.20 278.95,710.06 279.35,708.51 278.11,707.49 279.71,707.39" fill="#7d7d7d"/>
<polygon points="284.90,705.90 285.49,707.39 287.09,707.49 285.85,708.51 286.25,710.06 284.90,709.20 283.55,710.06 283.95,708.51 282.71,707.49 284.31,707.39" fill="#7d7d7d"/>
<path d="M392.8,699.9000000000001 V704.2 H413.3 V699.9000000000001" fill="none" stroke="#b5b5b5" stroke-width="0.9"/>
<text x="403.05" y="711.5" font-size="10.8" fill="#8a8a8a" font-weight="normal" text-anchor="middle" >ns</text>
<path d="M415.4,699.9000000000001 V704.2 H436.9 V699.9000000000001" fill="none" stroke="#b5b5b5" stroke-width="0.9"/>
<polygon points="419.25,705.90 419.84,707.39 421.44,707.49 420.20,708.51 420.60,710.06 419.25,709.20 417.90,710.06 418.30,708.51 417.06,707.49 418.66,707.39" fill="#7d7d7d"/>
<polygon points="423.85,705.90 424.44,707.39 426.04,707.49 424.80,708.51 425.20,710.06 423.85,709.20 422.50,710.06 422.90,708.51 421.66,707.49 423.26,707.39" fill="#7d7d7d"/>
<polygon points="428.45,705.90 429.04,707.39 430.64,707.49 429.40,708.51 429.80,710.06 428.45,709.20 427.10,710.06 427.50,708.51 426.26,707.49 427.86,707.39" fill="#7d7d7d"/>
<polygon points="433.05,705.90 433.64,707.39 435.24,707.49 434.00,708.51 434.40,710.06 433.05,709.20 431.70,710.06 432.10,708.51 430.86,707.49 432.46,707.39" fill="#7d7d7d"/>
<path d="M534.4,699.9000000000001 V704.2 H554.5 V699.9000000000001" fill="none" stroke="#b5b5b5" stroke-width="0.9"/>
<text x="544.45" y="711.5" font-size="10.8" fill="#8a8a8a" font-weight="normal" text-anchor="middle" >ns</text>
<path d="M557.5,699.9000000000001 V704.2 H578.3 V699.9000000000001" fill="none" stroke="#b5b5b5" stroke-width="0.9"/>
<text x="567.9" y="711.5" font-size="10.8" fill="#8a8a8a" font-weight="normal" text-anchor="middle" >ns</text>
<text x="86.4" y="749.8" font-size="13" fill="#1d9a4e">Early-transient<tspan font-size="9.4" dx="0.2" dy="-3.9">-/-</tspan></text>
<text x="240.5" y="749.8" font-size="13" fill="#8a4aa5">Early-stable<tspan font-size="9.4" dx="0.2" dy="-3.9">-/-</tspan></text>
<text x="374.4" y="749.6" font-size="13" fill="#e8202f">Early-increasing<tspan font-size="9.4" dx="0.2" dy="-3.9">-/-</tspan></text>
<text x="514.8" y="749.5" font-size="13" fill="#ec6a2c">Late-pyramidal<tspan font-size="7.9" dy="-3.6">high</tspan></text>
</svg>
</body></html>
